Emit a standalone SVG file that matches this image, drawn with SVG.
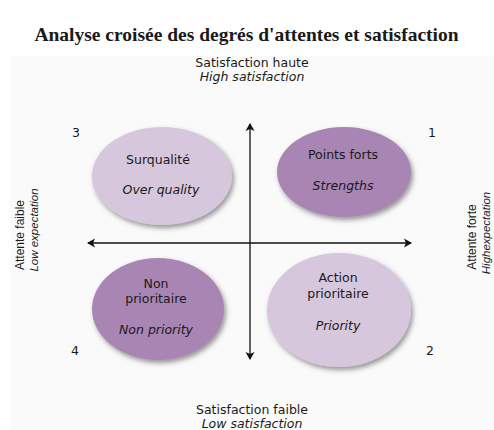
<svg xmlns="http://www.w3.org/2000/svg" width="494" height="430" viewBox="0 0 494 430">
  <style>
    .title { font-family: "Liberation Serif", "Times New Roman", serif; font-weight: bold; font-size: 19.5px; fill: #1a1a1a; }
    .lbl { font-family: "DejaVu Sans", "Open Sans", sans-serif; font-size: 12.5px; fill: #1a1a1a; text-anchor: middle; }
    .it { font-style: italic; }
    .side { font-family: "Liberation Sans", Arial, sans-serif; font-size: 12px; fill: #1a1a1a; text-anchor: middle; }
    .side.it { font-size: 11.5px; }
    .num { font-family: "DejaVu Sans", sans-serif; font-size: 12.5px; fill: #1a1a1a; text-anchor: middle; }
    .light { fill: #d7c7dc; }
    .dark { fill: #a985b4; }
    .axis { stroke: #111; stroke-width: 1.3; fill: none; }
  </style>
  <defs>
    <filter id="sh" x="-20%" y="-20%" width="140%" height="150%">
      <feDropShadow dx="2" dy="3" stdDeviation="2.5" flood-color="#444" flood-opacity="0.55"/>
    </filter>
    <marker id="arr" viewBox="-8 -5 10 10" markerWidth="10" markerHeight="10" refX="0" refY="0" markerUnits="userSpaceOnUse" orient="auto-start-reverse">
      <path d="M-7,-4.5 L1,0 L-7,4.5 L-5,0 z" fill="#111"/>
    </marker>
  </defs>

  <rect x="0" y="0" width="494" height="430" fill="#ffffff"/>
  <rect x="10" y="56" width="484" height="374" fill="#fafafa"/>

  <text class="title" x="246.5" y="41" text-anchor="middle">Analyse croisée des degrés d'attentes et satisfaction</text>

  <g id="label-top">
    <text class="lbl" x="252" y="67">Satisfaction haute</text>
    <text class="lbl it" x="252" y="81">High satisfaction</text>
  </g>
  <g id="label-bottom">
    <text class="lbl" x="252" y="414">Satisfaction faible</text>
    <text class="lbl it" x="252" y="427.5">Low satisfaction</text>
  </g>
  <g id="label-left">
    <text class="side" transform="translate(24,235) rotate(-90)">Attente faible</text>
    <text class="side it" transform="translate(38,230) rotate(-90)">Low expectation</text>
  </g>
  <g id="label-right">
    <text class="side" transform="translate(476,237) rotate(-90)">Attente forte</text>
    <text class="side it" transform="translate(489.5,233) rotate(-90)">Highexpectation</text>
  </g>

  <g id="connectors">
    <line class="axis" x1="250" y1="359" x2="250" y2="124" marker-start="url(#arr)" marker-end="url(#arr)"/>
    <line class="axis" x1="88" y1="243" x2="411" y2="243" marker-start="url(#arr)" marker-end="url(#arr)"/>
  </g>

  <g id="q3">
    <ellipse class="light" cx="162" cy="176" rx="70" ry="49" filter="url(#sh)"/>
    <text class="lbl" x="158" y="164">Surqualité</text>
    <text class="lbl it" x="161" y="194">Over quality</text>
    <text class="num" x="76" y="137">3</text>
  </g>
  <g id="q1">
    <ellipse class="dark" cx="344" cy="172" rx="67" ry="45" filter="url(#sh)"/>
    <text class="lbl" x="343" y="159">Points forts</text>
    <text class="lbl it" x="343" y="190">Strengths</text>
    <text class="num" x="432" y="137">1</text>
  </g>
  <g id="q4">
    <ellipse class="dark" cx="158" cy="309" rx="66" ry="51" filter="url(#sh)"/>
    <text class="lbl" x="156" y="288">Non</text>
    <text class="lbl" x="156" y="303">prioritaire</text>
    <text class="lbl it" x="156" y="334">Non priority</text>
    <text class="num" x="75" y="355">4</text>
  </g>
  <g id="q2">
    <ellipse class="light" cx="339" cy="310" rx="72" ry="57" filter="url(#sh)"/>
    <text class="lbl" x="338" y="282">Action</text>
    <text class="lbl" x="338" y="298">prioritaire</text>
    <text class="lbl it" x="338" y="330">Priority</text>
    <text class="num" x="430" y="355">2</text>
  </g>
</svg>
